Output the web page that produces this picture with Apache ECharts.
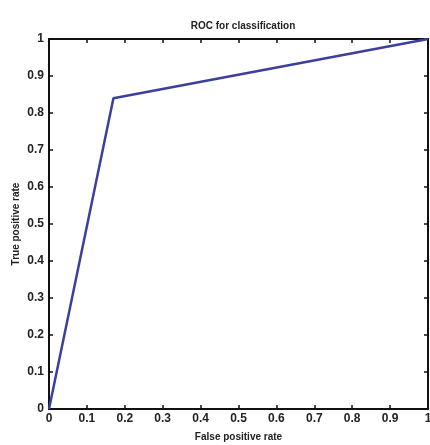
<!DOCTYPE html>
<html>
<head>
<meta charset="utf-8">
<script src="https://cdn.jsdelivr.net/npm/echarts@6/dist/echarts.min.js"></script>
<style>
  html, body { margin: 0; padding: 0; background: #fff; }
  #chart { width: 430px; height: 445px; }
</style>
</head>
<body>
<div id="chart"></div>
<script>
// ROC curve points (false positive rate, true positive rate)
const fpr = [0, 0.17, 1]
const tpr = [0, 0.84, 1]

const labelFont = {
  color: '#222',
  fontSize: 12,
  fontWeight: 'bold',
  fontFamily: 'Liberation Sans Narrow, Arial, sans-serif',
}

const fmt = v => (v === 0 || v === 1 ? String(v) : v.toFixed(1))

const boxAxis = (extra) => ({
  min: 0,
  max: 1,
  interval: 0.1,
  splitLine: { show: false },
  axisLine: { show: true, onZero: false, lineStyle: { color: '#111', width: 2 } },
  axisTick: { show: true, inside: true, length: 4, lineStyle: { color: '#111', width: 1.5 } },
  ...extra,
})

const chart = echarts.init(document.getElementById('chart'))
chart.setOption({
  backgroundColor: '#fff',
  animation: false,
  title: {
    text: 'ROC for classification',
    left: 238,
    textAlign: 'center',
    top: 16,
    textStyle: { ...labelFont, fontSize: 10 },
  },
  grid: { left: 49, right: 2, top: 39, bottom: 36, outerBoundsMode: 'none' },
  xAxis: [
    boxAxis({
      type: 'value',
      position: 'bottom',
      name: 'False positive rate',
      nameLocation: 'middle',
      nameGap: 23,
      nameTextStyle: { ...labelFont, fontSize: 10 },
      axisLabel: { ...labelFont, margin: 4, formatter: fmt },
    }),
    boxAxis({ type: 'value', position: 'top', axisLabel: { show: false } }),
  ],
  yAxis: [
    boxAxis({
      type: 'value',
      position: 'left',
      name: 'True positive rate',
      nameLocation: 'middle',
      nameGap: 28,
      nameMoveOverlap: false,
      nameTextStyle: { ...labelFont, fontSize: 10 },
      axisLabel: { ...labelFont, margin: 5, formatter: fmt },
    }),
    boxAxis({ type: 'value', position: 'right', axisLabel: { show: false } }),
  ],
  series: [
    {
      type: 'line',
      data: fpr.map((x, i) => [x, tpr[i]]),
      symbol: 'none',
      lineStyle: { color: '#3b3f9e', width: 2.5 },
    },
  ],
})
</script>
</body>
</html>
